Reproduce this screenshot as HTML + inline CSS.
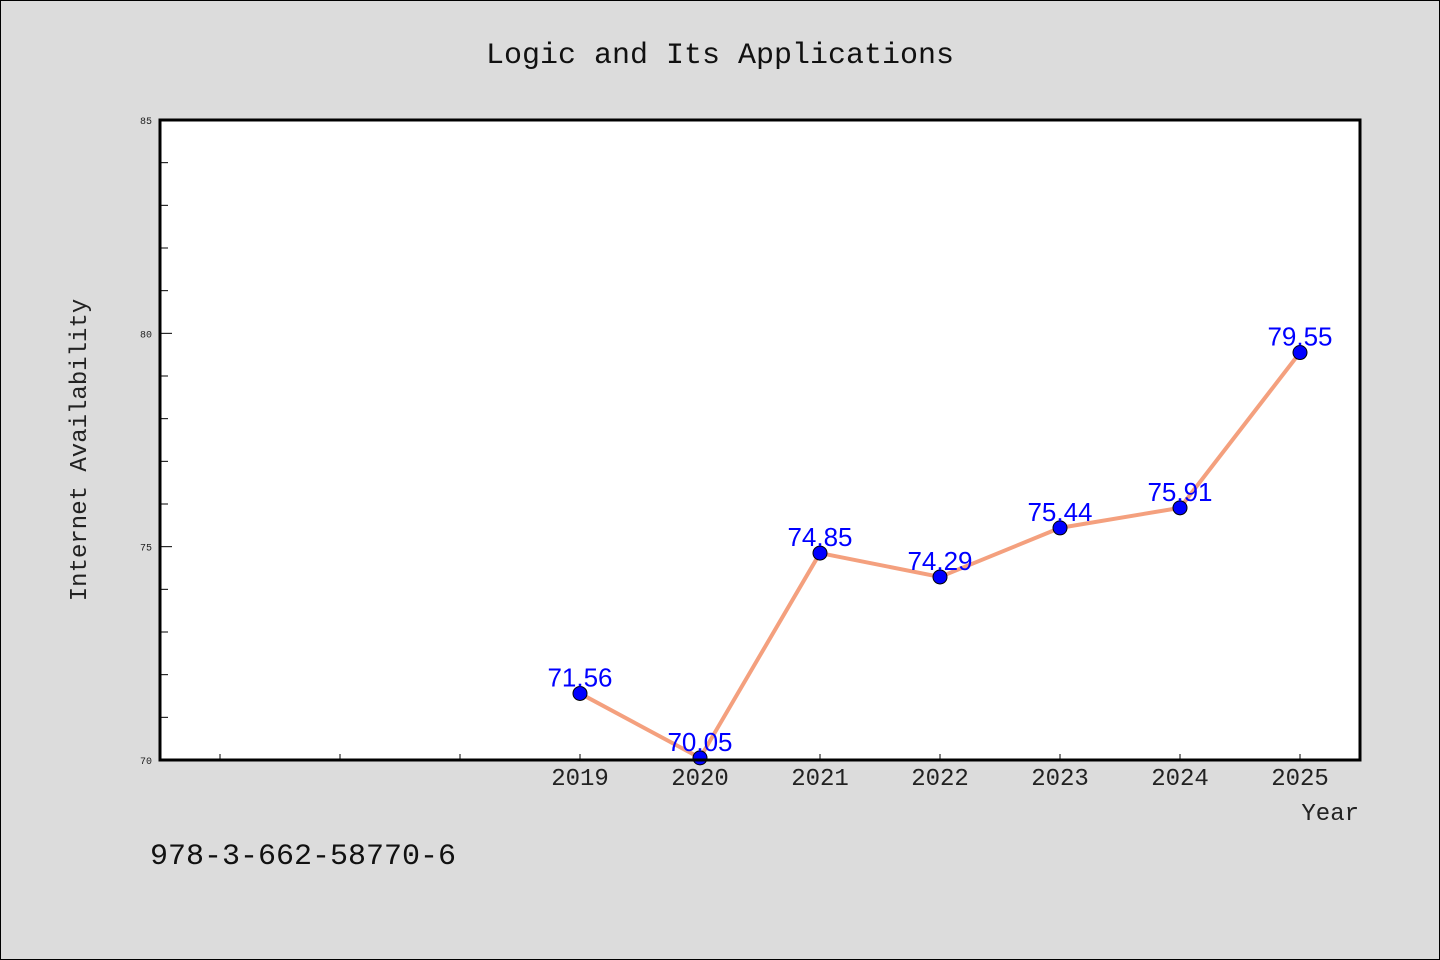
<!DOCTYPE html>
<html><head><meta charset="utf-8"><style>
html,body{margin:0;padding:0;background:#dcdcdc;}
svg{display:block;font-family:"Liberation Mono","DejaVu Sans Mono",monospace;}
</style></head><body>
<svg id="chart" width="1440" height="960">
<rect x="0.5" y="0.5" width="1439" height="959" fill="#dcdcdc" stroke="#000"/>
<text x="720" y="63" text-anchor="middle" font-size="30" fill="#111">Logic and Its Applications</text>
<rect x="160" y="120" width="1200" height="640" fill="#fff"/>
<g id="axes"></g>
<g id="series"></g>
<rect x="160" y="120" width="1200" height="640" fill="none" stroke="#000" stroke-width="3"/>
<text x="86" y="450" transform="rotate(-90 86 450)" text-anchor="middle" font-size="24" fill="#222">Internet Availability</text>
<text x="1359" y="820" text-anchor="end" font-size="24" fill="#222">Year</text>
<text x="150" y="864" font-size="30" fill="#111">978-3-662-58770-6</text>
</svg>
<script>
const years = [2019, 2020, 2021, 2022, 2023, 2024, 2025];
const values = [71.56, 70.05, 74.85, 74.29, 75.44, 75.91, 79.55];
const yTicks = [70, 75, 80, 85];
const xMinorTicks = [2016, 2017, 2018];
const NS = "http://www.w3.org/2000/svg";
const X0 = 160, X1 = 1360, Y0 = 760, Y1 = 120;
const xMin = 2015.5, xMax = 2025.5, yMin = 70, yMax = 85;
const xs = v => X0 + (v - xMin) / (xMax - xMin) * (X1 - X0);
const ys = v => Y0 - (v - yMin) / (yMax - yMin) * (Y0 - Y1);
function mk(tag, attrs, parent) {
  const e = document.createElementNS(NS, tag);
  for (const k in attrs) e.setAttribute(k, attrs[k]);
  parent.appendChild(e);
  return e;
}
const axes = document.getElementById('axes');
const series = document.getElementById('series');
for (let v = yMin; v <= yMax; v++) {
  const major = yTicks.includes(v);
  const t = mk('line', {x1: X0, x2: X0 + (major ? 12 : 8), y1: ys(v), y2: ys(v), stroke: '#000', 'stroke-width': 1}, axes);
  
  
}
yTicks.forEach(v => {
  const t = mk('text', {x: 152, y: ys(v) + 4, 'text-anchor': 'end', 'font-size': 10, fill: '#222'}, axes);
  t.textContent = v;
  
  
});
xMinorTicks.concat(years).forEach(v => {
  const t = mk('line', {x1: xs(v), x2: xs(v), y1: Y0, y2: Y0 - 6, stroke: '#000', 'stroke-width': 1}, axes);
  
  
});
years.forEach(v => {
  const t = mk('text', {x: xs(v), y: 785, 'text-anchor': 'middle', 'font-size': 24, fill: '#222'}, axes);
  t.textContent = v;
  
  
});
const line = mk('polyline', {points: years.map((y, i) => xs(y) + ',' + ys(values[i])).join(' '), fill: 'none', stroke: '#f4a07e', 'stroke-width': 4, 'stroke-linejoin': 'round'}, series);


years.forEach((y, i) => {
  const c = mk('circle', {cx: xs(y), cy: ys(values[i]), r: 7, fill: '#0000ff', stroke: '#000', 'stroke-width': 1}, series);
  
  
  const t = mk('text', {x: xs(y), y: ys(values[i]) - 7, 'text-anchor': 'middle', 'font-size': 26, fill: '#0000ff', 'font-family': '"Liberation Sans", sans-serif'}, series);
  t.textContent = values[i].toFixed(2);
  
  
});
</script>
</body></html>
